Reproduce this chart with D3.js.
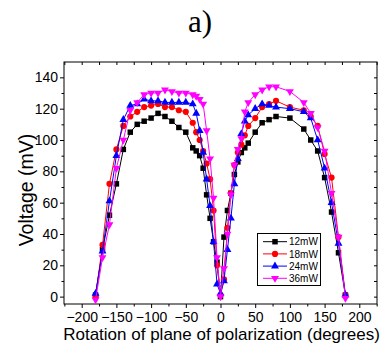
<!DOCTYPE html>
<html>
<head>
<meta charset="utf-8">
<script src="https://cdn.jsdelivr.net/npm/d3@7"></script>
<style>
  body { margin: 0; background: #fff; }
  svg { display: block; }
</style>
</head>
<body>
<div id="chart"></div>
<script>
// rotation angle (degrees)
const angles = [-180, -170, -160, -150, -140, -130, -120, -110, -100, -90, -80, -70, -60, -50, -40, -35, -30, -25, -20, -15, -10, -5,
  0, 5, 10, 15, 20, 25, 30, 35, 40, 50, 60, 70, 80, 100, 120, 130, 140, 150, 160, 170, 180];

// voltage (mV) for each power
const v12mW = [1, 30, 52, 72, 94, 105, 110, 112, 114, 117, 115, 112, 108, 105, 95, 93, 90, 82, 65, 50, 35, 22,
  0, 38, 55, 66, 78, 86, 92, 95, 98, 105, 111, 113, 115, 114, 107, 100, 93, 76, 54, 28, 1];
const v18mW = [0, 33, 72, 94, 109, 115, 118, 121, 122, 123, 121, 121, 119, 118, 111, 105, 100, 93, 85, 75, 55, 20,
  1, 11, 44, 66, 84, 92, 97, 103, 109, 114, 121, 123, 125, 121, 119, 115, 109, 91, 76, 38, 1];
const v24mW = [2, 29, 61, 90, 113, 122, 123, 126, 125, 125, 124, 124, 124, 124, 123, 117, 106, 92, 75, 58, 35, 8,
  2, 10, 30, 50, 72, 88, 104, 112, 116, 120, 123, 122, 121, 120, 118, 114, 100, 82, 60, 34, 1];
const v36mW = [-2, 25, 46, 82, 100, 119, 124, 129, 130, 130, 132, 131, 130, 130, 129, 128, 126, 123, 106, 88, 63, 25,
  0, 18, 40, 65, 84, 94, 101, 118, 124, 129, 132, 134, 134, 131, 124, 117, 108, 93, 66, 38, -1];

const seriesNames = ['12mW', '18mW', '24mW', '36mW'];
const seriesValues = [v12mW, v18mW, v24mW, v36mW];

const xTicks = [-200, -150, -100, -50, 0, 50, 100, 150, 200];
const yTicks = [0, 20, 40, 60, 80, 100, 120, 140];

const width = 382, height = 343;
const margin = { top: 62, right: 5, bottom: 39, left: 64 };

const colors = ['#000000', '#ff0000', '#0000ff', '#ff00ff'];
const shapes = [
  d3.symbol().type(d3.symbolSquare).size(30),
  d3.symbol().type(d3.symbolCircle).size(30),
  d3.symbol().type(d3.symbolTriangle).size(27),
  d3.symbol().type(d3.symbolTriangle).size(27)
];
const rotations = [0, 0, 0, 180];

const svg = d3.select('#chart')
  .append('svg')
  .attr('width', width)
  .attr('height', height);

const x = d3.scaleLinear()
  .domain([-225.5, 225.5])
  .range([margin.left, width - margin.right]);

const y = d3.scaleLinear()
  .domain([-4.7, 149.8])
  .range([height - margin.bottom, margin.top]);

const tickFont = '14px "Liberation Sans", Arial, sans-serif';

// bottom axis
const xAxis = svg.append('g')
  .attr('transform', 'translate(0,' + (height - margin.bottom) + ')')
  .call(d3.axisBottom(x).tickValues(xTicks).tickSize(4).tickPadding(4).tickFormat(d3.format('d')));
xAxis.select('.domain').remove();
xAxis.selectAll('text').style('font', tickFont).attr('fill', '#000');

svg.append('g')
  .attr('transform', 'translate(0,' + (height - margin.bottom) + ')')
  .call(d3.axisBottom(x).tickValues(d3.range(-225, 226, 25).filter(d => d % 50 !== 0)).tickSize(2.5).tickFormat(''))
  .select('.domain').remove();

// left axis
const yAxis = svg.append('g')
  .attr('transform', 'translate(' + margin.left + ',0)')
  .call(d3.axisLeft(y).tickValues(yTicks).tickSize(4).tickPadding(2));
yAxis.select('.domain').remove();
yAxis.selectAll('text').style('font', tickFont).attr('fill', '#000');

svg.append('g')
  .attr('transform', 'translate(' + margin.left + ',0)')
  .call(d3.axisLeft(y).tickValues(d3.range(10, 150, 20)).tickSize(2.5).tickFormat(''))
  .select('.domain').remove();

// top and right mirror ticks
svg.append('g')
  .attr('transform', 'translate(0,' + margin.top + ')')
  .call(d3.axisBottom(x).tickValues(d3.range(-225, 226, 25)).tickSize(3).tickFormat(''))
  .select('.domain').remove();

svg.append('g')
  .attr('transform', 'translate(' + (width - margin.right) + ',0)')
  .call(d3.axisLeft(y).tickValues(d3.range(0, 150, 10)).tickSize(3).tickFormat(''))
  .select('.domain').remove();

// frame
svg.append('rect')
  .attr('x', margin.left)
  .attr('y', margin.top)
  .attr('width', width - margin.left - margin.right)
  .attr('height', height - margin.top - margin.bottom)
  .attr('fill', 'none')
  .attr('stroke', '#000')
  .attr('stroke-width', 1);

// lines and points
seriesValues.forEach(function (vals, i) {
  const data = angles.map((a, j) => ({ a: a, v: vals[j] }));

  svg.append('path')
    .datum(data)
    .attr('fill', 'none')
    .attr('stroke', colors[i])
    .attr('stroke-width', 1)
    .attr('d', d3.line()
      .x(function (d) { return x(d.a) })
      .y(function (d) { return y(d.v) }));

  svg.selectAll('.pt' + i)
    .data(data)
    .enter()
    .append('path')
    .attr('class', 'pt' + i)
    .attr('d', shapes[i])
    .attr('fill', colors[i])
    .attr('transform', function (d) {
      return 'translate(' + x(d.a) + ',' + y(d.v) + ') rotate(' + rotations[i] + ')';
    });
});

// legend
const legend = svg.append('g');
legend.append('rect')
  .attr('x', 257.5)
  .attr('y', 233.5)
  .attr('width', 63)
  .attr('height', 52)
  .attr('fill', '#fff')
  .attr('stroke', '#000')
  .attr('stroke-width', 1);

seriesNames.forEach(function (name, i) {
  const ly = 241.7 + i * 12.2;
  legend.append('line')
    .attr('x1', 263)
    .attr('x2', 287)
    .attr('y1', ly)
    .attr('y2', ly)
    .attr('stroke', colors[i])
    .attr('stroke-width', 1);
  legend.append('path')
    .attr('d', shapes[i])
    .attr('fill', colors[i])
    .attr('transform', 'translate(275,' + ly + ') rotate(' + rotations[i] + ')');
  legend.append('text')
    .attr('x', 289)
    .attr('y', ly + 3.6)
    .style('font', '10px "Liberation Sans", Arial, sans-serif')
    .text(name);
});

// axis titles
svg.append('text')
  .attr('x', (margin.left + width - margin.right) / 2 + 1)
  .attr('y', 340)
  .attr('text-anchor', 'middle')
  .style('font', '17px "Liberation Sans", Arial, sans-serif')
  .text('Rotation of plane of polarization (degrees)');

svg.append('text')
  .attr('transform', 'translate(33,190) rotate(-90)')
  .attr('text-anchor', 'middle')
  .style('font', '19.5px "Liberation Sans", Arial, sans-serif')
  .text('Voltage (mV)');

svg.append('text')
  .attr('x', 200)
  .attr('y', 32)
  .attr('text-anchor', 'middle')
  .style('font', '31px "Liberation Serif", "Times New Roman", serif')
  .text('a)');
</script>
</body>
</html>
